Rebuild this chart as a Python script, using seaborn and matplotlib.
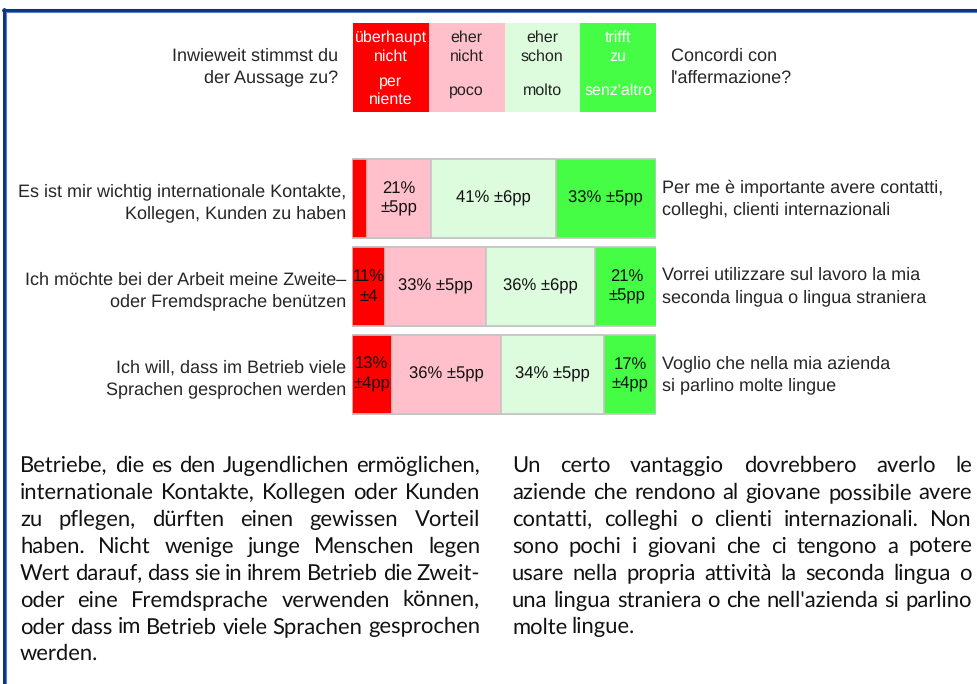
import matplotlib
matplotlib.use("Agg")
import matplotlib.pyplot as plt
from matplotlib.colors import ListedColormap
from matplotlib.lines import Line2D
import seaborn as sns
import pandas as pd
import numpy as np

sns.set_style("white")
plt.rcParams["font.family"] = ["Liberation Sans", "DejaVu Sans"]
plt.rcParams["text.hinting"] = "no_hinting"

# ====================================
# DATA
# ====================================

statements_de = [
    "Es ist mir wichtig internationale Kontakte,\nKollegen, Kunden zu haben",
    "Ich möchte bei der Arbeit meine Zweite–\noder Fremdsprache benützen",
    "Ich will, dass im Betrieb viele\nSprachen gesprochen werden",
]
statements_it = [
    "Per me è importante avere contatti,\ncolleghi, clienti internazionali",
    "Vorrei utilizzare sul lavoro la mia\nseconda lingua o lingua straniera",
    "Voglio che nella mia azienda\nsi parlino molte lingue",
]

pct_none = [5, 11, 13]
pct_little = [21, 33, 36]
pct_some = [41, 36, 34]
pct_full = [33, 21, 17]

labels_none = ["", "11%\n±4", "13%\n±4pp"]
labels_little = ["21%\n±5pp", "33% ±5pp", "36% ±5pp"]
labels_some = ["41% ±6pp", "36% ±6pp", "34% ±5pp"]
labels_full = ["33% ±5pp", "21%\n±5pp", "17%\n±4pp"]

legend_de = ["überhaupt\nnicht", "eher\nnicht", "eher\nschon", "trifft\nzu"]
legend_it = ["per\nniente", "poco", "molto", "senz'altro"]
legend_text_colors = ["white", "#222222", "#222222", "white"]

question_de = "Inwieweit stimmst du\nder Aussage zu?"
question_it = "Concordi con\nl'affermazione?"

palette = ["#ff0000", "#ffc0cb", "#ddfcdd", "#46fd46"]

text_de = [
    "Betriebe, die es den Jugendlichen ermöglichen,",
    "internationale Kontakte, Kollegen oder Kunden",
    "zu pflegen, dürften einen gewissen Vorteil",
    "haben. Nicht wenige junge Menschen legen",
    "Wert darauf, dass sie in ihrem Betrieb die Zweit-",
    "oder eine Fremdsprache verwenden können,",
    "oder dass im Betrieb viele Sprachen gesprochen",
    "werden.",
]
text_it = [
    "Un certo vantaggio dovrebbero averlo le",
    "aziende che rendono al giovane possibile avere",
    "contatti, colleghi o clienti internazionali. Non",
    "sono pochi i giovani che ci tengono a potere",
    "usare nella propria attività la seconda lingua o",
    "una lingua straniera o che nell'azienda si parlino",
    "molte lingue.",
]

# ====================================
# FIGURE
# ====================================

W, H = 977, 684
fig = plt.figure(figsize=(W / 100, H / 100), dpi=100)
fig.patch.set_facecolor("white")


def fx(px):
    return px / W


def fy(py):
    return 1 - py / H


# frame lines (top and left)
fig.add_artist(Line2D([fx(3), 1], [fy(9.5), fy(9.5)], color="#0b3585", lw=2.2))
fig.add_artist(Line2D([fx(3), 1], [fy(11.5), fy(11.5)], color="#5f80c0", lw=0.8))
fig.add_artist(Line2D([fx(4), fx(4)], [fy(9), 0], color="#0b3585", lw=2.2))
fig.add_artist(Line2D([fx(6), fx(6)], [fy(11.5), 0], color="#5f80c0", lw=0.8))

# ====================================
# LEGEND BOXES
# ====================================

leg_ax = fig.add_axes([fx(353), fy(112), fx(656) - fx(353), fy(23) - fy(112)])
sns.heatmap(
    np.arange(4).reshape(1, 4),
    cmap=ListedColormap(palette),
    cbar=False,
    ax=leg_ax,
)
leg_ax.set_xticks([])
leg_ax.set_yticks([])

for k in range(4):
    leg_ax.text(k + 0.5, 0.27, legend_de[k], ha="center", va="center",
                fontsize=11.5, color=legend_text_colors[k], linespacing=1.35)
    leg_ax.text(k + 0.5, 0.76, legend_it[k], ha="center", va="center",
                fontsize=11.5, color=legend_text_colors[k], linespacing=1.35)

fig.text(fx(338), fy(67), question_de, ha="right", va="center",
         fontsize=13, linespacing=1.4)
fig.text(fx(671), fy(67), question_it, ha="left", va="center",
         fontsize=13, linespacing=1.4)

# ====================================
# STACKED BARS
# ====================================

df = pd.DataFrame({
    "statement": statements_de,
    "none": pct_none,
    "little": pct_little,
    "some": pct_some,
    "full": pct_full,
})
parts = ["none", "little", "some", "full"]
cum = df[parts].cumsum(axis=1)

ax = fig.add_axes([fx(352), fy(418.5), fx(656) - fx(352), fy(154.5) - fy(418.5)])

# draw from the longest stack down so the shorter ones sit on top
for k in reversed(range(4)):
    sns.barplot(
        x=cum[parts[k]],
        y=df["statement"],
        orient="h",
        color=palette[k],
        saturation=1,
        width=0.9,
        edgecolor="#c4c4c4",
        linewidth=1.2,
        ax=ax,
    )

ax.set_xlim(0, 100)
ax.set_ylim(2.5, -0.5)
ax.set_xlabel("")
ax.set_ylabel("")
ax.set_xticks([])
ax.tick_params(axis="y", length=0, pad=4, labelsize=13)
for lbl in ax.get_yticklabels():
    lbl.set_linespacing(1.4)
for sp in ax.spines.values():
    sp.set_visible(False)

seg_labels = [labels_none, labels_little, labels_some, labels_full]
for i in range(len(df)):
    start = 0
    for k, p in enumerate(parts):
        val = df.loc[i, p]
        ax.text(start + val / 2, i, seg_labels[k][i], ha="center", va="center",
                fontsize=12, color="#111111", linespacing=1.35)
        start += val
    ax.text(1.02, i, statements_it[i], transform=ax.get_yaxis_transform(),
            ha="left", va="center", fontsize=13, linespacing=1.4)

# ====================================
# JUSTIFIED PARAGRAPHS
# ====================================

fig.canvas.draw()
renderer = fig.canvas.get_renderer()

para_font = dict(family=["Lato", "DejaVu Sans"], color="#111111")


def word_widths(words, size):
    out = []
    for w in words:
        t = fig.text(0, 0, w, fontsize=size, **para_font)
        out.append(t.get_window_extent(renderer).width)
        t.remove()
    return out


def fit_size(lines, colw, size):
    # largest size (up to `size`) at which every justified line still fits
    best = size
    for line in lines[:-1]:
        words = line.split(" ")
        total = sum(word_widths(words, size))
        room = colw - 4.5 * (len(words) - 1)
        best = min(best, size * room / total)
    return best


def put_paragraph(lines, x0, x1, base0, dy, size):
    for i, line in enumerate(lines):
        words = line.split(" ")
        items = [fig.text(0, fy(base0 + i * dy), w, va="baseline",
                          fontsize=size, **para_font) for w in words]
        widths = [t.get_window_extent(renderer).width for t in items]
        if i == len(lines) - 1 or len(words) == 1:
            gap = 4.5
        else:
            gap = (x1 - x0 - sum(widths)) / (len(words) - 1)
        x = x0
        for t, w in zip(items, widths):
            t.set_x(fx(x))
            x += w + gap


para_size = min(fit_size(text_de, 460, 16), fit_size(text_it, 460, 16))
put_paragraph(text_de, 20, 480, 472, 26.9, para_size)
put_paragraph(text_it, 512, 972, 472, 26.9, para_size)

plt.savefig("out.png", dpi=100)
plt.close()
